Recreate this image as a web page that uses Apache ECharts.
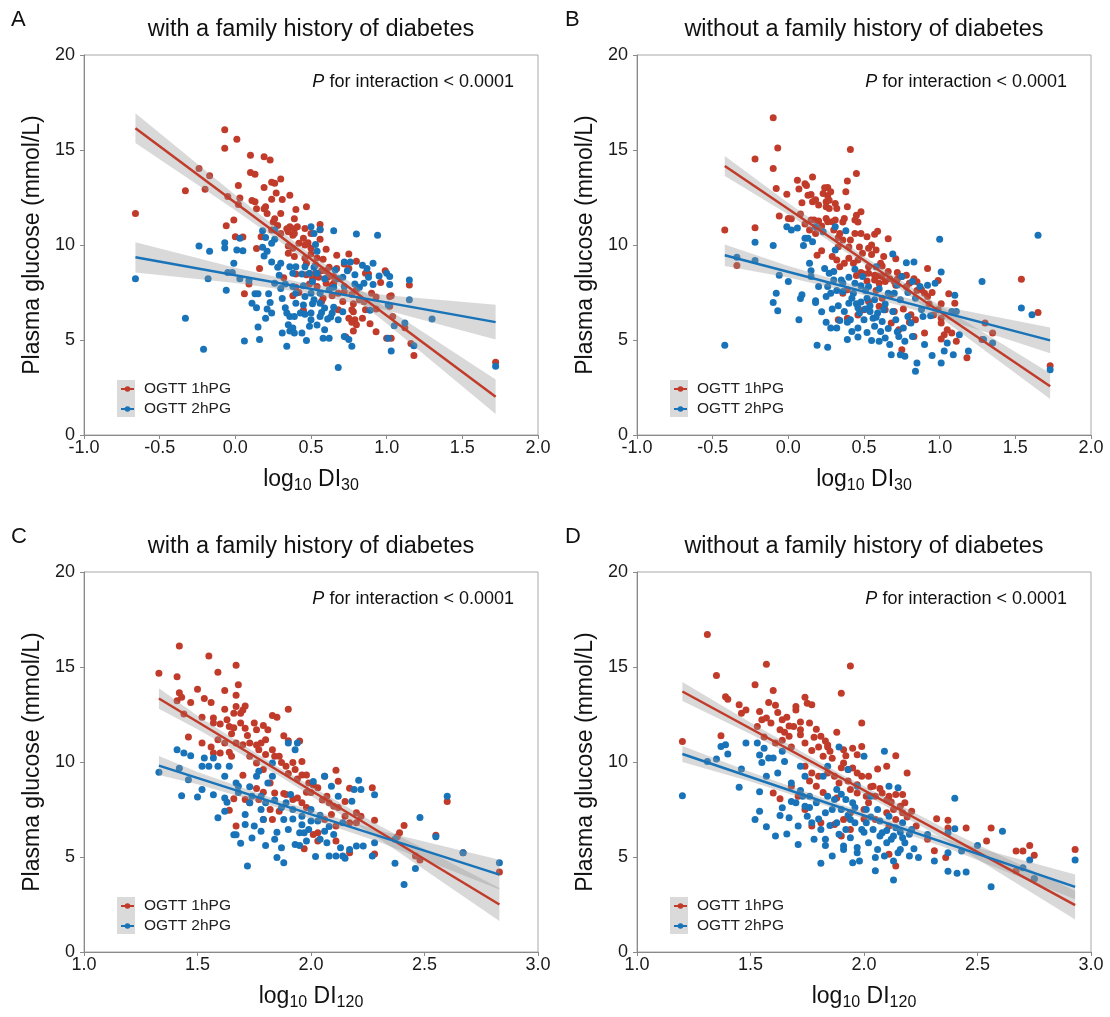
<!DOCTYPE html>
<html>
<head>
<meta charset="utf-8">
<script src="https://cdn.jsdelivr.net/npm/echarts@6/dist/echarts.min.js"></script>
<style>
  html, body { margin: 0; padding: 0; background: #ffffff; }
  #chart { width: 1110px; height: 1017px; }
</style>
</head>
<body>
<div id="chart"></div>
<script>
// ---------- data: plasma glucose vs. log10 disposition index ----------
// Panel A: log10 DI30, with a family history of diabetes
const a1hPoints = [[-0.66,11.66],[-0.07,16.07],[-0.07,15.09],[0.01,15.56],[-0.24,14.02],[-0.17,13.64],[-0.33,12.85],[-0.2,12.94],[0.1,14.72],[0.19,14.65],[0.23,14.48],[0.1,13.81],[0.13,13.72],[0.02,13.13],[0.19,13.02],[0.24,13.3],[0.26,13.25],[0.3,13.48],[0.27,12.74],[-0.05,12.55],[0.03,12.48],[0.36,12.62],[0.31,12.4],[0.24,12.41],[0.11,12.34],[0.13,12.27],[0.02,12.13],[0.2,12.01],[0.19,11.91],[0.14,11.91],[0.4,11.87],[0.47,12.01],[0.3,11.66],[0.26,11.38],[0.25,11.21],[-0.01,11.31],[-0.06,11.01],[0.39,11.38],[0.28,11.03],[0.34,10.86],[0.36,10.96],[0.39,10.86],[0.35,10.7],[0.41,10.96],[0.46,10.87],[0.56,11.08],[0.56,10.8],[0.5,10.61],[0.17,10.44],[0.0,10.44],[0.05,10.42],[0.38,10.51],[0.45,10.35],[0.56,10.3],[0.14,9.81],[0.35,9.95],[0.46,10.0],[0.48,10.12],[0.5,9.83],[0.6,9.77],[0.67,9.46],[0.75,9.53],[0.39,9.39],[0.46,9.3],[0.5,9.53],[0.54,9.32],[0.58,9.25],[0.8,9.14],[0.75,8.76],[0.67,8.76],[0.62,8.83],[0.72,9.0],[0.65,8.34],[0.4,8.48],[0.47,8.44],[0.53,8.51],[0.55,8.3],[0.61,8.3],[0.86,8.51],[0.88,8.48],[0.99,8.65],[0.96,8.02],[1.15,7.9],[0.16,8.76],[0.09,7.95],[0.06,7.43],[0.32,8.27],[0.4,7.78],[0.42,7.5],[0.38,7.33],[0.49,7.95],[0.54,7.81],[0.6,7.99],[0.64,7.88],[0.58,7.2],[0.57,7.03],[0.72,7.53],[0.77,7.39],[0.8,7.64],[0.9,7.46],[0.93,7.26],[1.02,7.29],[0.71,7.03],[0.78,6.91],[0.86,6.59],[0.93,6.63],[1.02,6.77],[0.68,6.59],[0.45,6.56],[0.78,6.49],[0.75,6.14],[0.79,6.07],[0.77,5.93],[0.8,5.8],[0.84,6.14],[0.89,5.86],[0.93,5.44],[0.78,5.47],[0.73,5.16],[1.0,5.09],[1.03,5.09],[1.04,6.24],[1.12,5.65],[1.16,4.81],[1.18,4.18],[1.72,3.83],[1.03,7.33],
  [0.21,11.66],[0.24,10.79],[0.3,10.61],[0.39,10.61],[0.42,10.09],[0.35,9.56],[0.38,9.83],[0.47,9.04],[0.53,8.95],[0.57,8.65],[0.6,8.65],[0.51,8.23],[0.65,7.99],[0.68,7.46],[0.64,7.33],[0.82,7.12],[0.85,7.01],[0.77,6.59]];
const a2hPoints = [[-0.66,8.23],[-0.33,6.15],[-0.21,4.51],[-0.24,9.95],[-0.17,9.67],[-0.18,8.23],[-0.07,10.12],[-0.07,9.84],[0.01,9.74],[0.05,9.7],[0.03,10.35],[-0.01,9.04],[-0.05,8.55],[-0.02,8.55],[0.03,8.23],[-0.06,7.62],[0.09,8.13],[0.06,4.95],[0.16,5.02],[0.11,6.94],[0.14,6.7],[0.13,7.43],[0.15,7.43],[0.21,6.63],[0.23,6.98],[0.22,7.43],[0.15,5.68],[0.2,6.14],[0.18,10.75],[0.26,10.79],[0.2,10.4],[0.18,9.88],[0.24,10.09],[0.21,9.67],[0.26,10.3],[0.19,9.42],[0.24,9.11],[0.28,8.83],[0.3,9.04],[0.29,8.41],[0.26,7.99],[0.33,7.95],[0.3,7.71],[0.31,7.19],[0.33,6.7],[0.34,6.42],[0.36,6.24],[0.35,5.8],[0.36,5.47],[0.34,4.67],[0.38,5.63],[0.39,6.24],[0.4,6.94],[0.43,6.42],[0.4,7.46],[0.38,8.51],[0.44,8.48],[0.45,7.85],[0.46,7.29],[0.45,6.84],[0.46,6.35],[0.44,5.37],[0.47,4.98],[0.5,6.07],[0.5,6.42],[0.51,6.91],[0.5,7.46],[0.51,8.06],[0.52,8.83],[0.5,10.96],[0.52,10.61],[0.56,10.82],[0.53,10.02],[0.54,9.67],[0.54,5.79],[0.56,6.24],[0.57,6.45],[0.58,5.09],[0.59,5.54],[0.62,5.09],[0.61,6.1],[0.63,6.21],[0.65,6.73],[0.65,7.78],[0.66,8.69],[0.65,10.75],[0.68,8.23],[0.71,8.3],[0.72,9.11],[0.76,9.11],[0.74,8.65],[0.72,7.81],[0.71,6.49],[0.72,5.19],[0.75,5.02],[0.77,4.67],[0.68,3.55],[0.79,7.95],[0.79,8.44],[0.8,10.58],[0.82,7.78],[0.84,8.93],[0.85,7.99],[0.87,8.76],[0.91,9.04],[0.91,7.92],[0.94,10.51],[0.88,8.3],[0.95,8.37],[1.0,8.51],[1.02,8.34],[1.02,7.92],[1.01,6.84],[1.12,5.89],[1.05,5.75],[1.01,5.09],[1.03,4.42],[1.15,7.12],[1.15,8.16],[1.18,4.7],[1.3,6.1],[1.72,3.62],[0.89,6.56],
  [0.36,8.86],[0.4,8.86],[0.46,8.86],[0.49,8.51],[0.54,8.51],[0.59,8.23],[0.62,7.64],[0.56,7.46],[0.52,7.12],[0.56,6.94],[0.59,6.68],[0.64,6.42],[0.68,6.07],[0.49,5.72],[0.39,5.37],[0.31,5.37],[0.24,6.42],[0.38,7.81]];
const aFit1h = [[-0.66,16.15],[1.72,2.01]];
const aFit2h = [[-0.66,9.35],[1.72,5.94]];
const aBand1h = [[-0.66,15.37,16.93],[0.0,11.83,12.63],[0.45,9.3,9.8],[1.0,5.87,6.67],[1.72,1.1,2.92]];
const aBand2h = [[-0.66,8.55,10.15],[0.0,8.0,8.8],[0.45,7.5,8.0],[1.0,6.56,7.36],[1.72,5.02,6.86]];

// Panel B: log10 DI30, without a family history of diabetes
const b1hPoints = [[-0.42,10.79],[-0.22,10.91],[-0.22,14.53],[-0.1,14.02],[-0.1,16.7],[-0.07,15.1],[-0.34,8.92],[-0.08,12.97],[-0.06,11.52],[-0.01,12.67],[0.0,11.4],[0.02,11.38],[0.06,13.41],[0.07,12.95],[0.08,11.63],[0.09,12.22],[0.11,13.23],[0.12,13.13],[0.13,12.62],[0.15,12.66],[0.16,13.58],[0.16,12.27],[0.18,12.38],[0.11,11.1],[0.15,11.31],[0.17,11.31],[0.2,11.26],[0.14,10.79],[0.18,10.61],[0.19,9.46],[0.22,9.7],[0.23,12.71],[0.24,13.01],[0.26,13.02],[0.26,12.59],[0.25,12.27],[0.25,12.01],[0.27,11.92],[0.27,12.36],[0.31,12.19],[0.32,11.92],[0.25,11.4],[0.26,11.22],[0.29,11.22],[0.31,11.31],[0.3,10.79],[0.34,10.61],[0.36,11.21],[0.37,11.4],[0.39,12.01],[0.38,12.8],[0.39,13.37],[0.41,15.03],[0.45,13.76],[0.48,11.75],[0.45,11.57],[0.44,11.31],[0.46,11.21],[0.48,10.61],[0.44,10.61],[0.41,10.26],[0.36,10.26],[0.33,9.91],[0.29,9.39],[0.32,9.21],[0.34,8.86],[0.37,9.04],[0.4,9.3],[0.43,9.04],[0.46,9.21],[0.49,9.56],[0.53,9.83],[0.55,10.0],[0.52,10.44],[0.57,10.56],[0.59,10.73],[0.66,10.33],[0.58,9.74],[0.63,9.39],[0.71,9.28],[0.61,9.04],[0.53,8.86],[0.48,8.55],[0.5,8.48],[0.53,8.51],[0.57,8.41],[0.59,8.37],[0.62,8.34],[0.57,8.16],[0.6,7.99],[0.64,8.08],[0.67,8.23],[0.72,8.55],[0.75,8.34],[0.7,8.08],[0.71,7.88],[0.78,8.41],[0.8,7.99],[0.83,8.23],[0.85,8.06],[0.92,8.76],[0.88,7.64],[0.9,7.46],[0.92,7.29],[0.95,7.5],[0.99,8.13],[1.06,7.43],[1.1,6.94],[1.01,6.91],[0.99,6.59],[0.96,6.31],[1.01,6.15],[1.01,5.89],[1.05,5.54],[1.03,5.28],[1.01,5.05],[1.08,5.37],[1.11,4.93],[0.9,5.37],[0.83,5.19],[0.75,4.49],[0.73,5.54],[0.68,5.89],[0.76,6.63],[0.7,6.5],[0.64,6.59],[0.6,6.77],[0.53,7.03],[0.5,6.59],[0.46,6.31],[0.39,6.15],[0.33,6.07],[0.36,7.46],[0.39,7.64],[0.84,6.07],[0.8,5.93],[0.81,6.33],[1.18,4.06],[1.3,5.89],[1.35,5.37],[1.54,8.2],[1.65,6.45],[1.73,3.65],[1.28,5.02],
  [0.2,12.1],[0.28,12.8],[0.22,11.0],[0.33,10.4],[0.4,9.9],[0.47,9.9],[0.55,9.5],[0.62,8.9],[0.66,8.6],[0.72,8.2],[0.78,7.8],[0.85,7.6],[0.68,7.4],[0.58,7.6],[0.52,8.1],[0.45,8.4],[0.93,6.9],[0.62,7.2]];
const b2hPoints = [[-0.42,4.72],[-0.34,9.35],[-0.22,10.14],[-0.22,9.18],[-0.1,9.98],[-0.1,6.98],[-0.08,7.46],[-0.07,6.54],[-0.06,8.41],[0.0,8.08],[-0.01,10.96],[0.02,10.79],[0.06,10.89],[0.07,6.07],[0.08,7.19],[0.09,7.38],[0.1,9.97],[0.11,10.35],[0.13,10.35],[0.14,9.04],[0.15,8.65],[0.15,8.34],[0.16,10.17],[0.18,10.96],[0.18,7.06],[0.18,6.98],[0.19,4.72],[0.2,7.81],[0.22,6.49],[0.23,10.7],[0.24,8.76],[0.25,7.29],[0.25,5.93],[0.26,7.81],[0.26,4.62],[0.27,8.51],[0.28,7.46],[0.29,6.63],[0.28,5.63],[0.3,8.16],[0.31,9.74],[0.31,10.96],[0.32,7.6],[0.32,5.63],[0.33,6.8],[0.34,6.03],[0.35,8.16],[0.36,7.55],[0.37,6.5],[0.38,10.75],[0.39,5.02],[0.39,5.93],[0.4,6.94],[0.41,6.07],[0.42,5.45],[0.43,7.46],[0.44,8.72],[0.44,7.99],[0.45,6.91],[0.46,5.16],[0.46,5.63],[0.47,6.42],[0.48,7.85],[0.49,8.34],[0.5,6.07],[0.51,7.6],[0.51,6.63],[0.52,7.2],[0.53,7.81],[0.54,6.5],[0.55,4.98],[0.56,6.15],[0.57,5.72],[0.57,7.12],[0.58,8.86],[0.59,6.42],[0.6,4.93],[0.61,5.45],[0.62,5.98],[0.63,6.59],[0.64,5.1],[0.66,7.46],[0.67,4.76],[0.68,4.23],[0.69,9.53],[0.7,7.46],[0.71,6.07],[0.72,5.44],[0.73,5.19],[0.74,7.12],[0.74,4.23],[0.75,8.34],[0.76,5.63],[0.77,4.14],[0.77,4.93],[0.78,9.07],[0.79,6.24],[0.81,5.89],[0.82,8.08],[0.82,5.19],[0.83,9.11],[0.84,3.36],[0.85,3.79],[0.87,7.81],[0.89,6.24],[0.9,4.76],[0.92,7.88],[0.94,6.28],[0.95,4.18],[0.97,7.99],[1.0,10.3],[1.01,3.79],[1.01,8.58],[1.03,4.42],[1.05,4.84],[1.08,6.5],[1.09,4.23],[1.1,7.36],[1.11,6.5],[1.13,5.28],[1.19,4.42],[1.28,8.08],[1.29,5.02],[1.35,4.84],[1.54,6.68],[1.61,6.33],[1.65,10.51],[1.73,3.44],
  [0.3,8.6],[0.36,8.0],[0.42,7.2],[0.48,7.0],[0.54,6.8],[0.58,6.2],[0.64,6.9],[0.69,6.5],[0.72,7.9],[0.79,7.5],[0.84,7.2],[0.6,7.7],[0.66,5.6],[0.52,5.4],[0.46,6.7],[0.4,8.3],[0.88,6.6]];
const bFit1h = [[-0.42,14.16],[1.73,2.57]];
const bFit2h = [[-0.42,9.46],[1.73,4.98]];
const bBand1h = [[-0.42,13.63,14.69],[0.0,11.61,12.21],[0.5,9.01,9.41],[1.0,6.21,6.81],[1.73,1.89,3.25]];
const bBand2h = [[-0.42,8.89,10.03],[0.0,8.29,8.89],[0.5,7.35,7.75],[1.0,6.2,6.8],[1.73,4.3,5.66]];

// Panel C: log10 DI120, with a family history of diabetes
const c1hPoints = [[1.33,14.67],[1.41,14.49],[1.42,16.1],[1.42,13.65],[1.41,13.23],[1.43,13.41],[1.44,12.53],[1.47,13.13],[1.46,11.31],[1.5,13.83],[1.52,12.36],[1.53,13.34],[1.55,15.58],[1.56,13.13],[1.57,12.31],[1.57,12.05],[1.59,14.72],[1.56,10.79],[1.59,11.17],[1.62,13.76],[1.62,12.78],[1.63,12.22],[1.64,11.87],[1.65,11.49],[1.66,12.57],[1.67,12.92],[1.67,15.09],[1.68,14.06],[1.67,13.51],[1.69,12.57],[1.7,12.74],[1.71,12.95],[1.69,12.05],[1.71,11.78],[1.62,11.0],[1.67,11.0],[1.65,10.3],[1.57,10.47],[1.6,10.47],[1.64,10.51],[1.52,11.0],[1.7,10.91],[1.73,11.0],[1.75,12.05],[1.76,11.7],[1.78,11.0],[1.79,11.92],[1.81,11.7],[1.8,11.17],[1.83,12.45],[1.85,12.36],[1.9,12.78],[1.88,11.38],[1.9,11.12],[1.95,11.1],[1.73,10.3],[1.77,10.65],[1.83,10.65],[1.84,10.3],[1.76,9.95],[1.79,9.6],[1.87,9.98],[1.89,9.77],[1.92,9.98],[1.96,10.02],[1.93,9.6],[1.96,9.32],[1.98,9.32],[1.99,8.9],[2.01,8.79],[2.03,8.65],[1.98,8.41],[1.96,7.85],[1.92,8.02],[1.89,8.29],[1.84,8.37],[1.79,8.41],[1.77,8.02],[1.73,7.85],[1.71,8.02],[1.66,8.06],[1.64,7.46],[1.67,6.63],[1.82,7.5],[1.83,6.98],[1.79,6.98],[1.86,7.41],[2.06,9.25],[2.11,9.56],[2.12,8.99],[2.07,8.2],[2.08,7.85],[2.1,7.67],[2.15,7.92],[2.17,8.62],[2.27,8.64],[2.2,7.33],[2.22,7.15],[2.15,7.15],[2.09,7.24],[2.06,6.98],[2.11,6.63],[2.17,6.8],[2.28,6.94],[2.03,6.28],[2.01,6.19],[2.03,5.84],[2.11,5.84],[1.97,5.44],[2.17,5.23],[2.28,5.16],[2.41,6.66],[2.39,6.28],[2.38,6.07],[2.55,6.14],[2.6,7.92],[2.48,4.84],[2.46,5.05],[2.67,5.23],[2.83,4.21],[1.88,8.34],[1.94,8.11],
  [1.6,12.0],[1.66,11.8],[1.72,11.4],[1.76,10.9],[1.8,10.4],[1.86,10.3],[1.9,9.4],[1.94,9.1],[2.0,8.4],[2.05,8.0],[1.82,8.9],[1.76,8.6],[1.7,9.3],[1.98,7.6],[2.12,7.6],[2.2,6.8]];
const c2hPoints = [[1.33,9.46],[1.41,10.65],[1.42,9.67],[1.43,8.23],[1.44,10.47],[1.46,9.07],[1.47,10.33],[1.5,8.16],[1.52,8.55],[1.52,9.77],[1.53,10.21],[1.55,9.77],[1.57,10.21],[1.57,8.27],[1.59,9.77],[1.59,7.06],[1.62,7.41],[1.63,7.88],[1.62,9.25],[1.64,9.77],[1.67,8.9],[1.68,8.72],[1.66,6.17],[1.67,6.17],[1.69,5.72],[1.72,4.53],[1.71,6.71],[1.71,7.24],[1.73,7.85],[1.74,8.2],[1.75,6.63],[1.76,9.25],[1.77,9.51],[1.78,7.5],[1.78,6.36],[1.79,6.98],[1.8,7.85],[1.81,8.9],[1.83,9.95],[1.83,9.25],[1.84,5.93],[1.85,4.97],[1.87,5.49],[1.88,4.7],[1.88,6.98],[1.89,7.85],[1.9,6.45],[1.9,11.0],[1.93,10.65],[1.94,11.0],[1.91,8.29],[1.92,7.5],[1.93,5.66],[1.95,6.28],[1.96,7.15],[1.97,6.28],[1.98,5.84],[1.99,6.45],[2.0,7.5],[2.01,8.97],[2.02,5.02],[2.03,6.89],[2.04,5.93],[2.06,6.36],[2.06,9.25],[2.07,5.75],[2.08,5.05],[2.09,8.72],[2.1,6.19],[2.11,5.05],[2.12,8.2],[2.13,5.49],[2.14,5.05],[2.15,4.93],[2.17,5.4],[2.18,7.94],[2.19,8.55],[2.2,5.58],[2.21,9.04],[2.22,8.55],[2.23,5.58],[2.28,5.75],[2.28,8.27],[2.27,5.05],[2.37,4.67],[2.41,3.55],[2.46,4.39],[2.48,7.08],[2.55,6.07],[2.6,8.2],[2.67,5.23],[2.83,4.7],[2.37,5.93],
  [1.68,8.4],[1.73,8.7],[1.78,8.2],[1.84,8.0],[1.87,7.6],[1.92,7.0],[1.96,6.7],[2.0,6.9],[2.04,7.2],[2.08,6.6],[1.85,6.3],[1.8,5.6],[1.74,6.0],[1.95,5.6],[2.14,6.8],[1.62,8.1]];
const cFit1h = [[1.33,13.34],[2.83,2.5]];
const cFit2h = [[1.33,9.81],[2.83,4.07]];
const cBand1h = [[1.33,12.8,13.88],[1.5,11.73,12.43],[1.85,9.34,9.78],[2.3,5.96,6.66],[2.83,1.63,3.37]];
const cBand2h = [[1.33,9.31,10.31],[1.5,8.83,9.47],[1.85,7.61,8.01],[2.3,5.79,6.39],[2.83,3.29,4.85]];

// Panel D: log10 DI120, without a family history of diabetes
const d1hPoints = [[1.2,11.08],[1.31,16.71],[1.35,14.55],[1.37,11.38],[1.39,13.44],[1.4,13.3],[1.45,13.01],[1.46,12.57],[1.48,12.74],[1.52,14.06],[1.53,11.87],[1.54,12.66],[1.55,12.22],[1.56,11.31],[1.57,15.14],[1.57,12.31],[1.58,13.13],[1.59,12.05],[1.6,13.76],[1.61,12.99],[1.61,11.0],[1.63,11.7],[1.64,12.22],[1.64,11.14],[1.65,11.56],[1.66,12.36],[1.67,11.35],[1.68,10.79],[1.69,11.87],[1.7,12.74],[1.7,12.92],[1.72,11.7],[1.72,11.43],[1.74,13.41],[1.74,11.0],[1.75,13.09],[1.76,12.05],[1.77,13.01],[1.77,10.61],[1.79,11.73],[1.8,10.79],[1.81,11.35],[1.82,10.3],[1.84,10.79],[1.84,10.89],[1.85,10.56],[1.88,11.56],[1.9,13.62],[1.91,10.65],[1.92,10.33],[1.94,15.05],[1.95,10.72],[1.97,10.38],[1.99,12.05],[1.99,10.82],[1.74,9.77],[1.77,9.42],[1.8,9.25],[1.79,8.72],[1.71,8.2],[1.68,8.72],[1.74,7.5],[1.6,8.37],[1.63,8.06],[1.77,6.63],[1.81,6.8],[1.84,9.42],[1.87,9.25],[1.89,8.9],[1.91,9.95],[1.93,9.6],[1.95,9.69],[1.97,9.42],[1.99,9.25],[2.02,9.25],[2.04,8.72],[2.06,9.63],[2.1,9.77],[2.14,10.33],[2.19,9.42],[1.94,8.55],[1.97,8.37],[2.01,8.2],[2.05,8.2],[2.08,8.37],[2.11,8.2],[2.14,8.29],[2.17,8.29],[2.18,7.85],[2.16,7.67],[2.13,7.5],[2.1,7.33],[2.02,7.85],[2.0,7.5],[1.94,7.33],[1.91,6.98],[1.87,6.71],[1.9,6.1],[1.94,6.45],[2.05,6.98],[2.11,6.63],[2.14,6.98],[2.17,7.33],[2.21,7.41],[2.23,6.63],[2.28,5.93],[2.14,4.53],[2.11,5.14],[2.32,7.01],[2.31,5.33],[2.37,6.94],[2.37,6.52],[2.36,4.97],[2.45,6.52],[2.54,5.84],[2.56,6.52],[2.67,5.31],[2.7,5.31],[2.73,5.61],[2.75,5.09],[2.93,5.4],[2.67,4.28],[2.75,3.86],
  [1.62,12.6],[1.67,11.9],[1.72,12.1],[1.78,11.3],[1.83,11.1],[1.86,10.2],[1.9,9.7],[1.93,9.0],[1.97,8.8],[2.03,8.7],[2.07,8.6],[2.1,8.0],[2.12,7.9],[1.88,8.1],[1.82,8.4],[1.76,9.0],[2.0,7.0],[2.19,7.1]];
const d2hPoints = [[1.2,8.23],[1.31,10.03],[1.35,10.16],[1.37,10.82],[1.39,10.91],[1.4,10.42],[1.46,9.63],[1.45,8.67],[1.48,11.0],[1.52,6.98],[1.53,11.0],[1.54,10.37],[1.54,8.44],[1.54,7.41],[1.55,9.98],[1.56,10.72],[1.57,6.59],[1.57,9.25],[1.58,10.21],[1.6,10.21],[1.61,6.1],[1.62,9.42],[1.63,7.19],[1.64,10.56],[1.64,7.59],[1.65,10.03],[1.66,6.21],[1.67,7.06],[1.68,7.92],[1.68,8.9],[1.7,7.85],[1.71,5.66],[1.71,6.63],[1.72,9.77],[1.73,8.2],[1.74,7.67],[1.74,9.25],[1.75,7.15],[1.76,8.2],[1.77,6.8],[1.78,5.93],[1.79,7.85],[1.81,6.45],[1.81,4.67],[1.82,9.25],[1.83,7.33],[1.83,5.93],[1.84,9.77],[1.85,6.66],[1.86,5.05],[1.87,8.02],[1.88,6.8],[1.88,8.55],[1.89,10.79],[1.9,7.5],[1.91,5.58],[1.91,5.4],[1.92,6.45],[1.92,8.02],[1.93,9.6],[1.94,6.98],[1.94,6.01],[1.95,4.7],[1.95,7.85],[1.96,6.8],[1.97,5.23],[1.97,8.72],[1.98,4.79],[1.99,6.45],[2.0,10.3],[2.01,7.5],[2.01,6.8],[2.02,5.75],[2.03,8.2],[2.04,6.45],[2.05,4.27],[2.05,4.97],[2.06,7.5],[2.07,6.1],[2.08,6.28],[2.09,5.05],[2.09,10.56],[2.1,5.75],[2.11,8.72],[2.11,7.15],[2.12,5.93],[2.13,4.79],[2.13,3.79],[2.14,6.54],[2.15,8.64],[2.15,5.23],[2.16,5.4],[2.17,6.01],[2.17,6.8],[2.18,5.75],[2.2,5.05],[2.21,6.45],[2.22,5.44],[2.24,4.97],[2.28,6.19],[2.31,4.79],[2.37,5.23],[2.37,4.25],[2.37,6.28],[2.4,8.09],[2.4,6.49],[2.41,4.14],[2.43,5.31],[2.45,4.21],[2.5,5.61],[2.56,3.43],[2.61,6.35],[2.73,4.84],[2.7,4.44],[2.93,4.84],[2.75,3.86],
  [1.72,8.5],[1.76,7.6],[1.8,7.0],[1.84,8.2],[1.86,7.5],[1.9,8.3],[1.93,7.2],[1.96,7.6],[2.0,6.3],[2.03,7.1],[2.07,6.9],[2.1,6.4],[2.13,6.1],[2.16,6.3],[1.89,6.2],[1.83,5.6],[1.97,5.5],[2.06,5.4],[2.2,6.2]];
const dFit1h = [[1.2,13.71],[2.93,2.47]];
const dFit2h = [[1.2,10.42],[2.93,3.43]];
const dBand1h = [[1.2,13.21,14.21],[1.5,11.48,12.08],[1.9,8.99,9.35],[2.4,5.62,6.22],[2.93,1.71,3.23]];
const dBand2h = [[1.2,10.0,10.84],[1.5,8.97,9.47],[1.9,7.44,7.76],[2.4,5.32,5.82],[2.93,2.78,4.08]];

// ---------- labels ----------
const seriesNames = ['OGTT 1hPG', 'OGTT 2hPG'];
const panelLetters = ['A', 'B', 'C', 'D'];
const panelTitles = ['with a family history of diabetes', 'without a family history of diabetes',
                     'with a family history of diabetes', 'without a family history of diabetes'];
const xIndexSub = ['30', '30', '120', '120'];
const yTitle = 'Plasma glucose (mmol/L)';
const interactionText = '{i|P} for interaction < 0.0001';

// ---------- styling / layout ----------
const RED = '#C13B2A';
const BLUE = '#1873B8';
const FONT = 'Liberation Sans, Arial, Helvetica, sans-serif';
const GRID_W = 454, GRID_H = 380;
const panels = [
  { left: 84,  top: 55,  xMin: -1, xMax: 2, p1: a1hPoints, p2: a2hPoints, f1: aFit1h, f2: aFit2h, b1: aBand1h, b2: aBand2h },
  { left: 637, top: 55,  xMin: -1, xMax: 2, p1: b1hPoints, p2: b2hPoints, f1: bFit1h, f2: bFit2h, b1: bBand1h, b2: bBand2h },
  { left: 84,  top: 572, xMin: 1,  xMax: 3, p1: c1hPoints, p2: c2hPoints, f1: cFit1h, f2: cFit2h, b1: cBand1h, b2: cBand2h },
  { left: 637, top: 572, xMin: 1,  xMax: 3, p1: d1hPoints, p2: d2hPoints, f1: dFit1h, f2: dFit2h, b1: dBand1h, b2: dBand2h }
];

const grid = [], xAxis = [], yAxis = [], lineSeries = [], otherSeries = [], legend = [], graphic = [];

// shaded confidence band: upper bound left→right, then lower bound right→left
function bandSeries(band, gi) {
  return {
    type: 'custom', xAxisIndex: gi, yAxisIndex: gi, silent: true, z: 3,
    data: [band[0]],
    renderItem: function (params, api) {
      const upper = band.map(b => api.coord([b[0], b[2]]));
      const lower = band.slice().reverse().map(b => api.coord([b[0], b[1]]));
      return { type: 'polygon', shape: { points: upper.concat(lower) },
               style: { fill: 'rgba(150,150,150,0.36)' } };
    }
  };
}

panels.forEach((p, i) => {
  grid.push({ left: p.left, top: p.top, width: GRID_W, height: GRID_H, show: true,
              borderColor: '#a8a8a8', borderWidth: 1, backgroundColor: 'transparent' });
  xAxis.push({
    type: 'value', gridIndex: i, min: p.xMin, max: p.xMax, interval: 0.5,
    axisLine: { show: true, onZero: false, lineStyle: { color: '#8a8a8a', width: 1 } },
    axisTick: { show: true, length: 4, lineStyle: { color: '#8a8a8a' } },
    splitLine: { show: false },
    axisLabel: { fontSize: 18, color: '#1a1a1a', fontFamily: FONT, margin: 4,
                 showMinLabel: true, showMaxLabel: true, formatter: v => v.toFixed(1) },
    name: '{m|log}{s|10}{m| DI}{s|' + xIndexSub[i] + '}',
    nameLocation: 'middle', nameGap: 31,
    nameTextStyle: { color: '#111', fontFamily: FONT,
      rich: { m: { fontSize: 23, fontFamily: FONT, color: '#111' },
              s: { fontSize: 16, fontFamily: FONT, color: '#111', padding: [12, 0, 0, 0] } } }
  });
  yAxis.push({
    type: 'value', gridIndex: i, min: 0, max: 20, interval: 5,
    axisLine: { show: true, onZero: false, lineStyle: { color: '#8a8a8a', width: 1 } },
    axisTick: { show: true, length: 4, lineStyle: { color: '#8a8a8a' } },
    splitLine: { show: false },
    axisLabel: { fontSize: 18, color: '#1a1a1a', fontFamily: FONT, margin: 9,
                 showMinLabel: true, showMaxLabel: true },
    name: yTitle, nameLocation: 'middle', nameGap: 40,
    nameTextStyle: { fontSize: 23, color: '#111', fontFamily: FONT }
  });

  // regression lines (also supply the legend icons)
  [[p.f1, RED, 0], [p.f2, BLUE, 1]].forEach(([fit, col, k]) => {
    lineSeries.push({
      type: 'line', name: seriesNames[k], xAxisIndex: i, yAxisIndex: i, data: fit,
      symbol: 'circle', symbolSize: 6, showSymbol: false, z: 5, silent: true,
      lineStyle: { color: col, width: 2.5 }, itemStyle: { color: col },
      emphasis: { disabled: true }
    });
  });
  // scatter points
  [[p.p1, RED, 0], [p.p2, BLUE, 1]].forEach(([pts, col, k]) => {
    otherSeries.push({
      type: 'scatter', name: seriesNames[k], xAxisIndex: i, yAxisIndex: i, data: pts,
      symbol: 'circle', symbolSize: 7, z: 2, silent: true,
      itemStyle: { color: col, opacity: 1 }
    });
  });
  // confidence bands
  otherSeries.push(bandSeries(p.b1, i));
  otherSeries.push(bandSeries(p.b2, i));

  legend.push({
    data: seriesNames, orient: 'vertical', left: p.left + 36, top: p.top + 326,
    padding: 0, itemWidth: 13, itemHeight: 7, itemGap: 4, selectedMode: false,
    textStyle: { fontSize: 15.5, color: '#222', fontFamily: FONT, padding: [0, 0, 0, 5] }
  });
  graphic.push({ type: 'rect', z: 1, shape: { x: p.left + 33, y: p.top + 325, width: 18, height: 37 },
                 style: { fill: '#dadada' } });

  const cx = p.left + GRID_W / 2;
  const tY = i < 2 ? 30 : 547;
  graphic.push({ type: 'text', z: 10, style: { text: panelTitles[i], x: cx, y: tY,
    fontSize: 23.5, fontFamily: FONT, fill: '#111', align: 'center', verticalAlign: 'middle',
    textAlign: 'center', textVerticalAlign: 'middle' } });
  graphic.push({ type: 'text', z: 10, style: { text: panelLetters[i], x: i % 2 === 0 ? 11 : 565,
    y: i < 2 ? 20 : 537, fontSize: 22, fontFamily: FONT, fill: '#111', align: 'left',
    verticalAlign: 'middle', textAlign: 'left', textVerticalAlign: 'middle' } });
  graphic.push({ type: 'text', z: 10, style: { text: interactionText, x: p.left + GRID_W - 24,
    y: p.top + 27, fontSize: 18, fontFamily: FONT, fill: '#111', align: 'right',
    verticalAlign: 'middle', textAlign: 'right', textVerticalAlign: 'middle',
    rich: { i: { fontStyle: 'italic', fontSize: 18, fontFamily: FONT, fill: '#111' } } } });
});

const chart = echarts.init(document.getElementById('chart'), null, { renderer: 'canvas' });
chart.setOption({
  backgroundColor: '#ffffff',
  animation: false,
  grid, xAxis, yAxis, legend, graphic,
  series: lineSeries.concat(otherSeries)
});
</script>
</body>
</html>
